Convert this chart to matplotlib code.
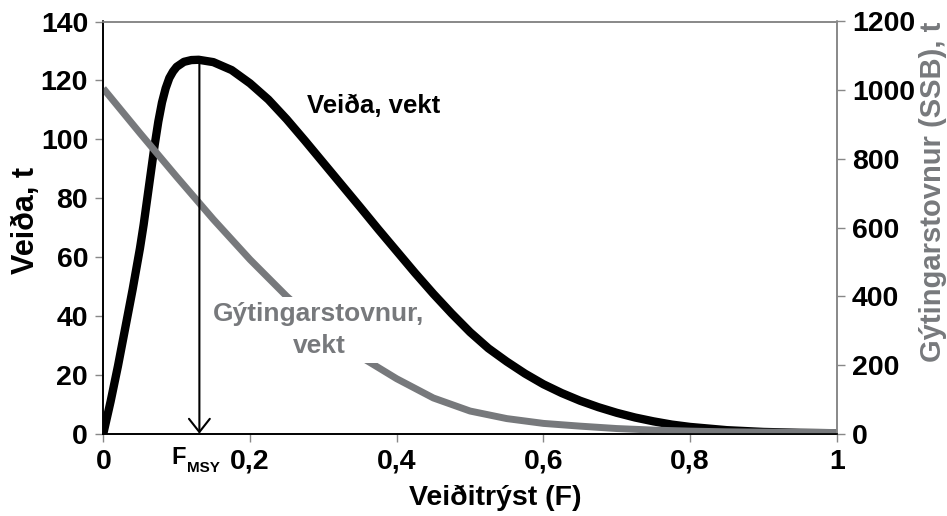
import matplotlib
matplotlib.use("Agg")
import matplotlib.pyplot as plt

plt.rcParams['font.family'] = ['Liberation Sans', 'DejaVu Sans']
plt.rcParams['font.weight'] = 'bold'

# Fishing mortality (x) and catch (left axis, t)
F_catch = [0, 0.01, 0.02, 0.03, 0.04, 0.05, 0.055, 0.06, 0.065, 0.07, 0.075,
           0.08, 0.085, 0.09, 0.095, 0.10, 0.11, 0.12, 0.13, 0.15, 0.175,
           0.20, 0.225, 0.25, 0.275, 0.30, 0.325, 0.35, 0.375, 0.40, 0.425,
           0.45, 0.475, 0.50, 0.525, 0.55, 0.575, 0.60, 0.625, 0.65, 0.675,
           0.70, 0.725, 0.75, 0.775, 0.80, 0.85, 0.90, 0.95, 1.0]
catch = [0, 11, 23, 36, 49, 63, 71, 80, 89, 98, 106,
         112.5, 117.3, 120.8, 123, 124.6, 126.3, 126.9, 127, 126.2, 123.5,
         119, 113.5, 106.8, 99.5, 92, 84.5, 77, 69.4, 62, 54.6,
         47.5, 40.8, 34.5, 29, 24.5, 20.4, 16.8, 13.8, 11.2, 9.0,
         7.1, 5.5, 4.2, 3.1, 2.3, 1.2, 0.6, 0.3, 0.15]

# Spawning stock biomass (right axis, t)
F_ssb = [0, 0.05, 0.10, 0.15, 0.20, 0.25, 0.30, 0.35, 0.40, 0.45,
         0.50, 0.55, 0.60, 0.65, 0.70, 0.75, 0.80, 0.85, 0.90, 0.95, 1.0]
ssb = [1005, 875, 748, 624, 507, 400, 305, 225, 160, 104,
       66, 44, 30, 22, 15, 10.5, 7.5, 5.5, 4.5, 4, 3.5]

F_msy = 0.131
catch_msy = 127

x_ticks = [0, 0.2, 0.4, 0.6, 0.8, 1.0]
x_ticklabels = ["0", "0,2", "0,4", "0,6", "0,8", "1"]
y_ticks = [0, 20, 40, 60, 80, 100, 120, 140]
y2_ticks = [0, 200, 400, 600, 800, 1000, 1200]

black = '#000000'
grey = '#77797c'
axisgrey = '#888888'

fig = plt.figure(figsize=(9.47, 5.16), dpi=100)
W, H = 947, 516
ax = fig.add_axes([103.3 / W, 1 - 433.7 / H, (836.8 - 103.3) / W, (433.7 - 21.5) / H])
ax2 = ax.twinx()

ax.plot(F_catch, catch, color=black, lw=6.0, solid_capstyle='butt', solid_joinstyle='round')
ax2.plot(F_ssb, ssb, color=grey, lw=5.0, solid_capstyle='butt', solid_joinstyle='round')

ax.set_xlim(0, 1)
ax.set_ylim(0, 140)
ax2.set_ylim(0, 1200)
ax.set_xticks(x_ticks)
ax.set_xticklabels(x_ticklabels)
ax.set_yticks(y_ticks)
ax2.set_yticks(y2_ticks)

for a in (ax, ax2):
    for s in a.spines.values():
        s.set_linewidth(1.2)
    a.spines['left'].set_color(black)
    a.spines['bottom'].set_color(black)
    a.spines['top'].set_color(axisgrey)
    a.spines['right'].set_color(axisgrey)

ax.tick_params(axis='both', direction='out', length=6, width=1.0, color=axisgrey,
               labelsize=20.5, pad=5)
ax.tick_params(axis='x', pad=5)
ax2.tick_params(axis='y', direction='out', length=6, width=1.0, color=axisgrey,
                labelsize=20.5, pad=5)
for lab in ax.get_xticklabels() + ax.get_yticklabels() + ax2.get_yticklabels():
    lab.set_fontweight('bold')

# Arrow at F_MSY
ax2.annotate('', xy=(F_msy, 0), xytext=(F_msy, catch_msy),
             xycoords=ax.transData, textcoords=ax.transData,
             arrowprops=dict(arrowstyle='->,head_length=0.95,head_width=0.75',
                             color=black, lw=1.5, shrinkA=0, shrinkB=0),
             zorder=6)

# In-plot labels
ax2.text(374 / W, 1 - 106 / H, 'Veiða, vekt', transform=fig.transFigure,
         ha='center', va='center', fontsize=18.5, fontweight='bold', color=black, zorder=7)
ax2.text(319 / W, 1 - 330 / H, 'Gýtingarstovnur,\nvekt', transform=fig.transFigure,
         ha='center', va='center', fontsize=19, fontweight='bold', color=grey,
         linespacing=1.4, zorder=7,
         bbox=dict(boxstyle='square,pad=0.18', fc='white', ec='none'))

# F_MSY label
fig.text(171 / W, 1 - 463.5 / H, 'F', ha='left', va='baseline', fontsize=17,
         fontweight='bold', color=black)
fig.text(186.5 / W, 1 - 472.5 / H, 'MSY', ha='left', va='baseline', fontsize=11,
         fontweight='bold', color=black)

# Axis titles
fig.text(495 / W, 1 - 498 / H, 'Veiðitrýst (F)', ha='center', va='center',
         fontsize=20.5, fontweight='bold', color=black)
fig.text(26 / W, 1 - 221 / H, 'Veiða, t', ha='center', va='center', rotation=90,
         fontsize=22, fontweight='bold', color=black)
fig.text(933 / W, 1 - 192 / H, 'Gýtingarstovnur (SSB), t', ha='center', va='center',
         rotation=90, fontsize=21, fontweight='bold', color=grey)

fig.savefig('out.png', dpi=100)
